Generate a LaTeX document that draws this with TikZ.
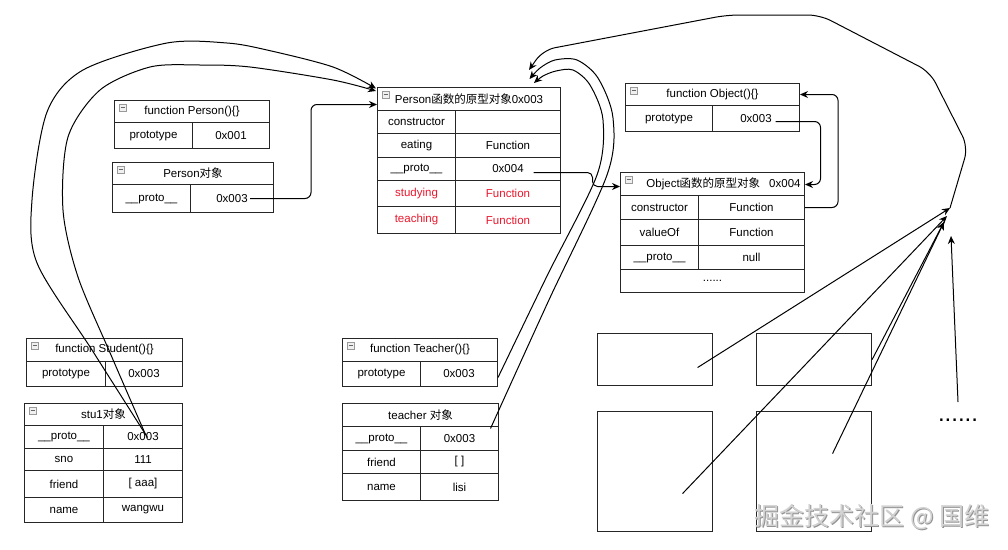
\documentclass[tikz,border=0pt]{standalone}
\usepackage{fontspec}
\setmainfont{Liberation Sans}
\newfontfamily\cjk{Noto Sans CJK SC}
\usepackage{tikz}
\usetikzlibrary{arrows.meta}
\definecolor{hlred}{RGB}{232,23,44}

\begin{document}
\begin{tikzpicture}[
    x=1pt,y=-1pt,
    cell/.style 2 args={draw=black!85,line width=1pt,anchor=north west,inner sep=0pt,
                  minimum width=#1pt,minimum height=#2pt,font=\fontsize{11.5}{13}\selectfont},
    icon/.style={draw=gray!80,fill=gray!12,minimum size=7pt,inner sep=0pt,anchor=north west,
                 path picture={\draw[black!60,line width=0.9pt]
                   ([xshift=1.5pt]path picture bounding box.west) --
                   ([xshift=-1.5pt]path picture bounding box.east);}},
    empty/.style 2 args={draw=black!85,line width=1.1pt,anchor=north west,inner sep=0pt,
                  minimum width=#1pt,minimum height=#2pt},
    arrow/.style={-{Stealth[length=8pt,width=7pt]},line width=1pt}
]
\useasboundingbox (0,0) rectangle (1008,549);

% function Person(){}
\node[cell={155}{22}] (fPh) at (114,100) {function Person()\{\}};
\node[cell={78}{26}] (fPk) at (114,122) {prototype};
\node[cell={77}{26}] (fPv) at (192,122) {0x001};
\node[icon] (fPi) at ([xshift=5pt,yshift=-4pt]fPh.north west) {};

% Person object
\node[cell={161}{22}] (pOh) at (112,162) {Person{\cjk 对象}};
\node[cell={78}{28}] (pOk) at (112,184) {\_\_proto\_\_};
\node[cell={83}{28}] (pOv) at (190,184) {0x003};
\node[icon] (pOi) at ([xshift=5pt,yshift=-4pt]pOh.north west) {};

% Person prototype
\node[cell={183}{23}] (pph) at (377,87) {Person{\cjk 函数的原型对象}0x003};
\node[cell={78}{23}] (ppck) at (377,110) {constructor};
\node[cell={105}{23}] (ppcv) at (455,110) {};
\node[cell={78}{24}] (ppek) at (377,133) {eating};
\node[cell={105}{24}] (ppev) at (455,133) {Function};
\node[cell={78}{23}] (pppk) at (377,157) {\_\_proto\_\_};
\node[cell={105}{23}] (pppv) at (455,157) {0x004};
\node[cell={78}{26},text=hlred] (ppsk) at (377,180) {studying};
\node[cell={105}{26},text=hlred] (ppsv) at (455,180) {Function};
\node[cell={78}{27},text=hlred] (pptk) at (377,206) {teaching};
\node[cell={105}{27},text=hlred] (pptv) at (455,206) {Function};
\node[icon] (ppi) at ([xshift=5pt,yshift=-4pt]pph.north west) {};

% function Object(){}
\node[cell={174}{22}] (fOh) at (625,83) {function Object()\{\}};
\node[cell={87}{26}] (fOk) at (625,105) {prototype};
\node[cell={87}{26}] (fOv) at (712,105) {0x003};
\node[icon] (fOi) at ([xshift=5pt,yshift=-4pt]fOh.north west) {};

% Object prototype
\node[cell={184}{23}] (oph) at (620,172)
    {\hspace*{22pt}Object{\cjk 函数的原型对象}\hspace{9pt}0x004};
\node[cell={78}{24}] (opck) at (620,195) {constructor};
\node[cell={106}{24}] (opcv) at (698,195) {Function};
\node[cell={78}{26}] (opvk) at (620,219) {valueOf};
\node[cell={106}{26}] (opvv) at (698,219) {Function};
\node[cell={78}{24}] (oppk) at (620,245) {\_\_proto\_\_};
\node[cell={106}{24}] (oppv) at (698,245) {null};
\node[cell={184}{23}] (opek) at (620,269) {......};
\node[icon] (opi) at ([xshift=5pt,yshift=-4pt]oph.north west) {};

% function Student(){}
\node[cell={156}{23}] (fSh) at (26,338) {function Student()\{\}};
\node[cell={79}{25}] (fSk) at (26,361) {prototype};
\node[cell={77}{25}] (fSv) at (105,361) {0x003};
\node[icon] (fSi) at ([xshift=5pt,yshift=-4pt]fSh.north west) {};

% stu1 object
\node[cell={158}{22}] (s1h) at (24,403) {stu1{\cjk 对象}};
\node[cell={79}{23}] (s1pk) at (24,425) {\_\_proto\_\_};
\node[cell={79}{23}] (s1pv) at (103,425) {0x003};
\node[cell={79}{22}] (s1sk) at (24,448) {sno};
\node[cell={79}{22}] (s1sv) at (103,448) {111};
\node[cell={79}{27}] (s1fk) at (24,470) {friend};
\node[cell={79}{27}] (s1fv) at (103,470) {[ aaa]};
\node[cell={79}{25}] (s1nk) at (24,497) {name};
\node[cell={79}{25}] (s1nv) at (103,497) {wangwu};
\node[icon] (s1i) at ([xshift=5pt,yshift=-4pt]s1h.north west) {};

% function Teacher(){}
\node[cell={155}{23}] (fTh) at (342,338) {function Teacher()\{\}};
\node[cell={78}{25}] (fTk) at (342,361) {prototype};
\node[cell={77}{25}] (fTv) at (420,361) {0x003};
\node[icon] (fTi) at ([xshift=5pt,yshift=-4pt]fTh.north west) {};

% teacher object
\node[cell={156}{23}] (tOh) at (342,403) {teacher {\cjk 对象}};
\node[cell={78}{24}] (tOpk) at (342,426) {\_\_proto\_\_};
\node[cell={78}{24}] (tOpv) at (420,426) {0x003};
\node[cell={78}{23}] (tOfk) at (342,450) {friend};
\node[cell={78}{23}] (tOfv) at (420,450) {[ ]};
\node[cell={78}{27}] (tOnk) at (342,473) {name};
\node[cell={78}{27}] (tOnv) at (420,473) {lisi};

% other objects
\node[empty={115}{52}] (e1) at (597,333) {};
\node[empty={115}{52}] (e2) at (756,333) {};
\node[empty={115}{120}] (e3) at (597,411) {};
\node[empty={115}{120}] (e4) at (756,411) {};
\node[inner sep=0pt,font=\fontsize{24}{24}\selectfont] (dots) at (958,420) {......};

\coordinate (hubA) at (950,208);
\coordinate (hubB) at (947,216);
\coordinate (hubC) at (944,222);
\coordinate (hubD) at (951,236);

% links
\draw[arrow,rounded corners=6pt] ([xshift=18pt]pOv.center) -- ++(61,0)
    |- ([yshift=-5.5pt]pph.west);
\draw[arrow] plot[smooth,tension=0.5] coordinates {([xshift=4.5pt,yshift=-0.5pt]s1pv.center)
    (92,350) (37,263) (32,200) (47,112) (83,70) (167,43) (227,43) (267,50) (333,67)
    ([xshift=-1pt,yshift=-1.5pt]pph.north west)};
\draw[arrow] plot[smooth,tension=0.5] coordinates {([xshift=2.5pt,yshift=2.5pt]s1pv.center)
    (111,355) (78,277) (63,210) (68,137) (100,90) (150,67) (200,65) (250,67) (333,80)
    ([xshift=-1pt,yshift=-4pt]pph.north west)};
\draw[arrow] plot[smooth,tension=0.5] coordinates {([xshift=31pt,yshift=10pt]tOpv.center)
    (548,302) (607,175) (613,118) (598,78) (577,60) (555,60) (540,68)
    ([xshift=60.5pt,yshift=8pt]pph.north)};
\draw[arrow] plot[smooth,tension=0.5] coordinates {([yshift=-3.5pt]fTv.east)
    (547,276) (597,175) (603,120) (590,85) (573,70) (556,71) (543,76)
    ([xshift=65pt,yshift=4pt]pph.north)};
\draw[arrow,rounded corners=5pt] ([xshift=25.5pt,yshift=-3.5pt]pppv.center) -- ++(59,0)
    |- ([yshift=-2.5pt]oph.west);
\draw[arrow,rounded corners=6pt] ([xshift=19.5pt,yshift=-3pt]fOv.center) -- ++(45,0)
    |- ([yshift=-0.5pt]oph.east);
\draw[arrow,rounded corners=6pt] (opcv.east) -- ++(33,0) |- (fOh.east);

\draw[arrow] ([xshift=42.5pt,yshift=-8pt]e1.center) -- (hubA);
\draw[arrow] ([xshift=27.5pt,yshift=-22pt]e3.center) -- (hubB);
\draw[arrow] (e2.east) -- (hubC);
\draw[arrow] ([xshift=18.5pt,yshift=18pt]e4.center) -- (hubC);
\draw[arrow] ([yshift=18pt]dots.center) -- (hubD);
\draw[arrow,rounded corners=12pt] (hubA) -- (968,147) -- (930,72) -- (820,15)
    -- (727,15) -- (543,50) -- ([xshift=60pt,yshift=17pt]pph.north);

% watermark
\node[text=gray!85,font=\cjk\fontsize{25}{25}\selectfont] (wms) at (873,518)
    {掘金技术社区 @ 国维};
\node[text=gray!35,font=\cjk\fontsize{25}{25}\selectfont] (wm) at (872,517)
    {掘金技术社区 @ 国维};
\end{tikzpicture}
\end{document}
